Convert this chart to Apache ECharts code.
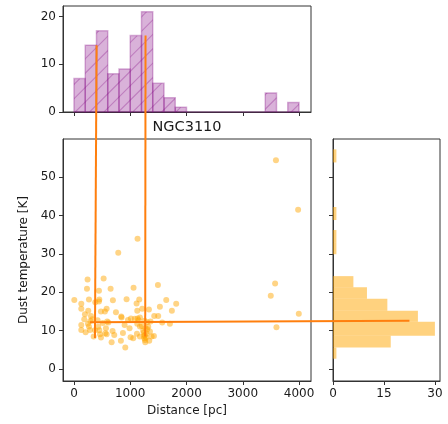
<!DOCTYPE html>
<html><head><meta charset="utf-8">
<script src="https://cdn.jsdelivr.net/npm/echarts@6/dist/echarts.min.js"></script>
<style>html,body{margin:0;padding:0;background:#fff}#c{width:448px;height:424px}</style>
</head><body><div id="c"></div>
<script>
// ---- data ----
const distance = [3590,3984,3575,3498,3996,3599,
  6,130,130,183,195,130,130,
  242,231,266,379,254,302,325,248,266,284,207,373,290,350,
  527,444,450,444,479,580,550,420,450,462,568,556,580,510,480,430,590,
  651,692,746,610,686,716,669,787,
  935,840,870,988,834,912,846,900,960,
  1059,1113,1160,1125,1012,1083,1130,1172,1125,1148,1006,1053,1119,1172,1172,1130,
  1213,1332,1255,1302,1261,1302,1350,1379,1261,1338,1267,1207,1240,1280,1250,1230,1290,1320,1270,1245,1360,
  1492,1527,1427,1497,1568,1421,
  1640,1740,1705,
  1817];
const temperature = [54.4,41.5,22.3,19.1,14.4,10.9,
  18.0,17.0,15.7,13.0,14.3,11.5,10.2,
  23.3,20.9,18.1,17.4,15.2,13.8,13.0,11.8,11.1,10.2,9.6,10.1,12.5,8.5,
  23.6,20.4,18.1,17.6,15.0,15.7,15.0,12.7,10.1,9.1,10.6,9.3,9.1,12.0,8.2,11.0,12.4,
  20.9,17.9,14.8,12.1,9.9,8.9,7.0,30.3,
  18.2,13.7,9.4,10.6,7.4,5.6,13.4,11.5,12.8,
  21.2,17.1,18.1,15.2,13.2,13.1,13.2,13.4,11.8,12.7,8.3,8.0,9.2,8.5,11.1,33.9,
  15.7,15.5,12.6,12.2,8.9,10.4,9.8,8.5,7.6,7.4,7.0,11.2,9.5,8.2,8.0,10.0,9.2,11.0,10.6,8.6,12.4,
  21.9,16.2,13.8,13.8,12.1,8.6,
  18.0,15.2,11.8,
  17.0];

const distBinEdges = [0,200,400,600,800,1000,1200,1400,1600,1800,2000,2200,2400,2600,2800,3000,3200,3400,3600,3800,4000];
const distCounts = [7,14,17,8,9,16,21,6,3,1,0,0,0,0,0,0,0,4,0,2];

const tempBinLo = [2.7,5.6,8.65,12.3,15.2,18.3,21.3,29.9,33.05,38.8,53.8];
const tempBinHi = [5.6,8.65,12.3,15.2,18.3,21.3,24.2,33.05,36.2,42.2,57.2];
const tempCounts = [1,17,30,25,16,10,6,1,1,1,1];

const distTicks = [0,1000,2000,3000,4000];
const tempTicks = [0,10,20,30,40,50];
const countTicksTop = [0,10,20];
const countTicksRight = [0,15,30];

const title = 'NGC3110';
const xName = 'Distance [pc]';
const yName = 'Dust temperature [K]';

// connector lines: [distance or count, value]
const vLine1Top = [402,14], vLine1Bottom = [373,8.1];
const vLine2Top = [1272,16], vLine2Bottom = [1266,8.5];
const hLineLeft = [284,12.2], hLineRight = [22.5,12.6];

// ---- chart ----
const FONT = 'DejaVu Sans';
const TXT = '#1a1a1a';
const AX = '#333';
const chart = echarts.init(document.getElementById('c'), null, {renderer:'canvas'});

function axisBase(o){
  return Object.assign({
    type:'value', splitLine:{show:false},
    axisLine:{show:true, onZero:false, lineStyle:{color:AX, width:1}},
    axisTick:{show:true, inside:false, length:4, lineStyle:{color:AX, width:1}},
    axisLabel:{show:true, fontFamily:FONT, fontSize:12, color:TXT, margin:7, formatter:(v)=>String(v)}
  }, o);
}
function ticks(ax, vals, showLabels){
  ax.axisTick.customValues = vals;
  ax.axisLabel.customValues = vals;
  ax.axisLabel.show = showLabels;
  return ax;
}

const purpleFill = 'rgba(128,0,128,0.3)';
const purpleEdge = 'rgba(128,0,128,0.3)';
const HATCH = 14.4;

function renderTop(params, api){
  const lo = api.value(0), hi = api.value(1), c = api.value(2);
  const p0 = api.coord([lo,0]), p1 = api.coord([hi,c]);
  const x = p0[0], y = p1[1], w = p1[0]-p0[0], h = p0[1]-p1[1];
  const children = [];
  if (h > 0.5){
    children.push({type:'rect', shape:{x,y,width:w,height:h}, style:{fill:purpleFill}});
    const lines = [];
    const cmin = Math.floor((x+y)/HATCH)*HATCH, cmax = x+w+y+h;
    for(let cc=cmin; cc<=cmax+HATCH; cc+=HATCH){
      lines.push({type:'line', shape:{x1:cc-(y+h), y1:y+h, x2:cc-y, y2:y}, style:{stroke:purpleEdge, lineWidth:1.1}});
    }
    children.push({type:'group', children:lines, clipPath:{type:'rect', shape:{x,y,width:w,height:h}}});
  }
  children.push({type:'rect', shape:{x,y,width:w,height:h}, style:{fill:'none', stroke:purpleEdge, lineWidth:1.5}});
  return {type:'group', children};
}
function renderRight(params, api){
  const lo = api.value(0), hi = api.value(1), c = api.value(2);
  const p0 = api.coord([0,lo]), p1 = api.coord([c,hi]);
  return {type:'rect', shape:{x:p0[0], y:p1[1], width:p1[0]-p0[0], height:p0[1]-p1[1]},
    style:{fill:'rgba(255,165,0,0.5)'}};
}

const topData = distCounts.map((c,i)=>[distBinEdges[i], distBinEdges[i+1], c]);
const rightData = tempCounts.map((c,i)=>[tempBinLo[i], tempBinHi[i], c]);
const scatterData = distance.map((d,i)=>[d, temperature[i]]);

const gridStyle = {show:true, borderColor:AX, borderWidth:1, backgroundColor:'transparent', containLabel:false};

chart.setOption({
  animation:false,
  grid:[
    Object.assign({left:63, top:6, width:248, height:106}, gridStyle),
    Object.assign({left:63, top:139, width:248, height:242}, gridStyle),
    Object.assign({left:333, top:139, width:107, height:242}, gridStyle)
  ],
  xAxis:[
    ticks(axisBase({gridIndex:0, min:-195, max:4213}), distTicks, false),
    Object.assign(ticks(axisBase({gridIndex:1, min:-195, max:4213}), distTicks, true),
      {name:xName, nameLocation:'middle', nameGap:23, nameTextStyle:{fontFamily:FONT, fontSize:12, color:TXT}}),
    ticks(axisBase({gridIndex:2, min:0, max:31.5}), countTicksRight, true)
  ],
  yAxis:[
    ticks(axisBase({gridIndex:0, min:0, max:22.2}), countTicksTop, true),
    Object.assign(ticks(axisBase({gridIndex:1, min:-3.1, max:59.9}), tempTicks, true),
      {name:yName, nameLocation:'middle', nameGap:29, nameTextStyle:{fontFamily:FONT, fontSize:12, color:TXT}}),
    ticks(axisBase({gridIndex:2, min:-3.1, max:59.9}), tempTicks, false)
  ],
  series:[
    {type:'custom', xAxisIndex:0, yAxisIndex:0, renderItem:renderTop, data:topData, encode:{x:[0,1], y:2}, clip:false},
    {type:'scatter', xAxisIndex:1, yAxisIndex:1, data:scatterData, symbolSize:6,
      itemStyle:{color:'rgba(255,165,0,0.6)'}, silent:true},
    {type:'custom', xAxisIndex:2, yAxisIndex:2, renderItem:renderRight, data:rightData, encode:{x:2, y:[0,1]}}
  ],
  graphic:[
    {type:'text', x:187, y:127, z:10, style:{text:title, fontFamily:FONT, fontSize:14.5, fill:TXT, textAlign:'center', textVerticalAlign:'middle'}}
  ]
});

function drawConnectors(){
  const a = chart.convertToPixel({gridIndex:0}, vLine1Top);
  const b = chart.convertToPixel({gridIndex:1}, vLine1Bottom);
  const c = chart.convertToPixel({gridIndex:0}, vLine2Top);
  const d = chart.convertToPixel({gridIndex:1}, vLine2Bottom);
  const e = chart.convertToPixel({gridIndex:1}, hLineLeft);
  const f = chart.convertToPixel({gridIndex:2}, hLineRight);
  const st = {stroke:'#ff7f0e', lineWidth:2};
  chart.setOption({graphic:[
    {type:'text', x:187, y:127, z:10, style:{text:title, fontFamily:FONT, fontSize:14.5, fill:TXT, textAlign:'center', textVerticalAlign:'middle'}},
    {type:'line', z:100, shape:{x1:a[0],y1:a[1],x2:b[0],y2:b[1]}, style:st},
    {type:'line', z:100, shape:{x1:c[0],y1:c[1],x2:d[0],y2:d[1]}, style:st},
    {type:'line', z:100, shape:{x1:e[0],y1:e[1],x2:f[0],y2:f[1]}, style:st}
  ]});
}
drawConnectors();
</script>
</body></html>
